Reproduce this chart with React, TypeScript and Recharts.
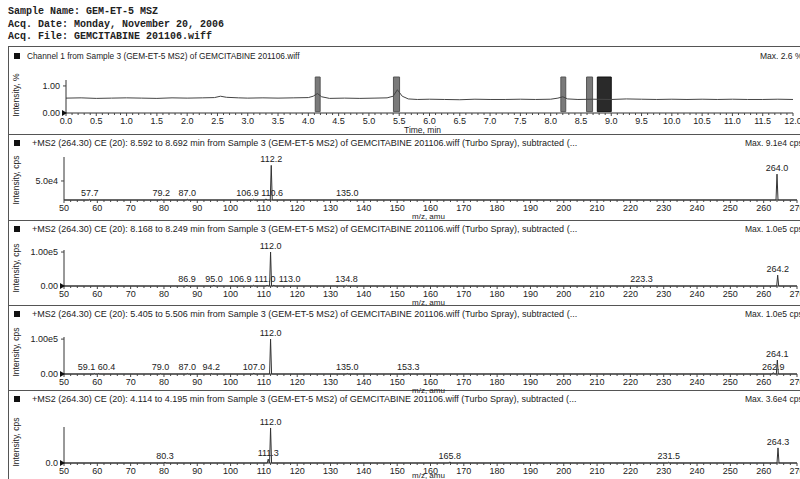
import { ComposedChart, Line, Scatter, XAxis, YAxis, ReferenceArea } from 'recharts';

// header block (monospace, as printed by the acquisition software)
const headerLines = [
  'Sample Name: GEM-ET-5 MSZ',
  'Acq. Date: Monday, November 20, 2006',
  'Acq. File: GEMCITABINE 201106.wiff',
];

// chromatogram (Channel 1)
const chromTitle = 'Channel 1 from Sample 3 (GEM-ET-5 MS2) of GEMCITABINE 201106.wiff';
const chromMax = 'Max. 2.6 %';
const chromTime = [
  0.0, 0.25, 0.5, 0.75, 1.0, 1.25, 1.5, 1.75, 2.0, 2.25, 2.45, 2.55, 2.65, 2.85, 3.0,
  3.25, 3.5, 3.75, 4.0, 4.08, 4.15, 4.22, 4.35, 4.6, 4.85, 5.1, 5.3, 5.4, 5.47, 5.55,
  5.65, 5.8, 6.0, 6.25, 6.5, 6.75, 7.0, 7.25, 7.5, 7.75, 8.0, 8.12, 8.2, 8.28, 8.45,
  8.7, 9.0, 9.25, 9.5, 9.75, 10.0, 10.25, 10.5, 10.75, 11.0, 11.25, 11.5, 11.75, 12.0,
];
const chromIntensity = [
  0.55, 0.56, 0.54, 0.55, 0.56, 0.55, 0.54, 0.56, 0.55, 0.56, 0.57, 0.62, 0.58, 0.56, 0.55,
  0.56, 0.55, 0.56, 0.57, 0.62, 0.72, 0.6, 0.54, 0.55, 0.54, 0.55, 0.56, 0.62, 0.86, 0.62,
  0.52, 0.5, 0.51, 0.5, 0.49, 0.51, 0.5, 0.5, 0.51, 0.5, 0.51, 0.55, 0.6, 0.52, 0.5,
  0.51, 0.5, 0.52, 0.51, 0.5, 0.51, 0.5, 0.51, 0.5, 0.51, 0.5, 0.5, 0.51, 0.5,
];
const timeTicks = [
  0, 0.5, 1, 1.5, 2, 2.5, 3, 3.5, 4, 4.5, 5, 5.5, 6, 6.5, 7, 7.5, 8, 8.5, 9, 9.5, 10, 10.5, 11, 11.5, 12,
];
// selected scan windows shown as grey bars
const scanStart = [4.114, 5.405, 8.168, 8.592];
const scanEnd = [4.195, 5.506, 8.249, 8.692];
const heldStart = 8.77;
const heldEnd = 9.0;

// product ion spectra
const spectrumRanges = ['8.592 to 8.692', '8.168 to 8.249', '5.405 to 5.506', '4.114 to 4.195'];
const spectrumMax = ['Max. 9.1e4 cps', 'Max. 1.0e5 cps', 'Max. 1.0e5 cps', 'Max. 3.6e4 cps'];

const spec1Mz = [57.7, 79.2, 87.0, 106.9, 110.6, 112.2, 135.0, 264.0];
const spec1Int = [1800, 1800, 2200, 2200, 3000, 91000, 1500, 68000];
const spec2Mz = [86.9, 95.0, 106.9, 111.0, 112.0, 113.0, 134.8, 223.3, 264.2];
const spec2Int = [2000, 2000, 2000, 3000, 100000, 2500, 2000, 1500, 32000];
const spec3Mz = [59.1, 60.4, 79.0, 87.0, 94.2, 107.0, 112.0, 135.0, 153.3, 262.9, 264.1];
const spec3Int = [1500, 1500, 1500, 1500, 1500, 2000, 100000, 1500, 1500, 4000, 40000];
const spec4Mz = [80.3, 111.3, 112.0, 165.8, 231.5, 264.3];
const spec4Int = [800, 4000, 36000, 1200, 800, 15500];

const mzTicks = [50, 60, 70, 80, 90, 100, 110, 120, 130, 140, 150, 160, 170, 180, 190, 200, 210, 220, 230, 240, 250, 260, 270];

const SANS = '"Liberation Sans", Arial, sans-serif';
const INK = '#222';

// minor ticks between the labelled ones
const mzMinor = mzTicks.flatMap((t, i) => (i === mzTicks.length - 1 ? [t] : [t, t + 2, t + 4, t + 6, t + 8]));
const timeMinor = timeTicks.flatMap((t, i) =>
  i === timeTicks.length - 1 ? [t] : [t, t + 0.1, t + 0.2, t + 0.3, t + 0.4].map((v) => Math.round(v * 10) / 10)
);

const buildTrace = (mz: number[], ints: number[]) => {
  const pts = [{ mz: 50, v: 0 }];
  mz.forEach((m, i) => {
    pts.push({ mz: m - 0.3, v: 0 }, { mz: m, v: ints[i] }, { mz: m + 0.3, v: 0 });
  });
  pts.push({ mz: 270, v: 0 });
  return pts.sort((a, b) => a.mz - b.mz);
};

// spread the small-peak labels along the axis so they don't sit on top of each other
const layoutLabels = (mz: number[], ints: number[], yMax: number) => {
  const pos = mz.slice();
  const low = mz.map((_, i) => i).filter((i) => ints[i] < yMax * 0.15).sort((a, b) => mz[a] - mz[b]);
  for (let it = 0; it < 60; it++) {
    for (let k = 1; k < low.length; k++) {
      const a = low[k - 1];
      const b = low[k];
      const need = (mz[a].toFixed(1).length + mz[b].toFixed(1).length) * 0.72 + 0.2;
      const gap = pos[b] - pos[a];
      if (gap < need) {
        const d = (need - gap) / 2;
        pos[a] -= d;
        pos[b] += d;
      }
    }
  }
  return mz.map((m, i) => ({ mz: pos[i], v: ints[i], text: m.toFixed(1) }));
};

const XTick = ({ x, y, payload, labels }: any) => {
  const major = labels.some((t: number) => Math.abs(t - payload.value) < 1e-6);
  return (
    <g>
      <line x1={x} y1={y} x2={x} y2={y + (major ? 3 : 2)} stroke="#444" />
      {major && (
        <text x={x} y={y + 10.5} textAnchor="middle" fontSize={9} fontFamily={SANS} fill={INK}>
          {labels === timeTicks ? payload.value.toFixed(1) : payload.value}
        </text>
      )}
    </g>
  );
};

const YTick = ({ x, y, payload, fmt }: any) => (
  <g>
    <line x1={x + 2} y1={y} x2={x + 5} y2={y} stroke="#444" />
    <text x={x - 1} y={y} dy="0.35em" textAnchor="end" fontSize={9} fontFamily={SANS} fill={INK}>
      {fmt(payload.value)}
    </text>
    {payload.value === 0 && <polygon points={`${x + 1},${y - 3} ${x + 6},${y} ${x + 1},${y + 3}`} fill="#111" />}
  </g>
);

const PeakLabel = ({ cx, cy, payload }: any) => (
  <text x={cx} y={cy - 3} textAnchor="middle" fontSize={9} fontFamily={SANS} fill={INK}>
    {payload.text}
  </text>
);

const Txt = ({ left, top, size = 8.5, children, mono = false, bold = false }: any) => (
  <div
    style={{
      position: 'absolute',
      left,
      top: top - size * 0.5,
      fontSize: size,
      lineHeight: 1,
      whiteSpace: 'nowrap',
      fontFamily: mono ? '"Liberation Mono", "Courier New", monospace' : SANS,
      fontWeight: bold ? 700 : 400,
      color: INK,
    }}
  >
    {children}
  </div>
);

const VLabel = ({ cx, cy, children }: any) => (
  <div
    style={{
      position: 'absolute',
      left: cx,
      top: cy,
      transform: 'translate(-50%, -50%) rotate(-90deg)',
      fontSize: 8.5,
      fontFamily: SANS,
      color: INK,
      whiteSpace: 'nowrap',
    }}
  >
    {children}
  </div>
);

const spectra = [
  { mz: spec1Mz, ints: spec1Int, top: 135, height: 87, mTop: 22, axisH: 22, yMax: 113000, yTicks: [0, 50000], fmt: (v: number) => (v === 0 ? '0.0' : '5.0e4') },
  { mz: spec2Mz, ints: spec2Int, top: 222, height: 85, mTop: 28, axisH: 21, yMax: 106000, yTicks: [0, 100000], fmt: (v: number) => (v === 0 ? '0.00' : '1.00e5') },
  { mz: spec3Mz, ints: spec3Int, top: 307, height: 85, mTop: 30, axisH: 18, yMax: 106000, yTicks: [0, 100000], fmt: (v: number) => (v === 0 ? '0.00' : '1.00e5') },
  { mz: spec4Mz, ints: spec4Int, top: 392, height: 87, mTop: 35, axisH: 16, yMax: 37000, yTicks: [0], fmt: () => '0.0' },
];

const separators = [46, 134, 220, 305, 390];
const titleY = [56, 143, 229, 314, 399];
const yLabelY = [95, 180, 268, 352, 442];

export default function App() {
  const chromData = chromTime.map((t, i) => ({ t, v: chromIntensity[i] }));

  return (
    <div style={{ position: 'absolute', left: 0, top: 0, width: 800, height: 479, overflow: 'hidden', background: '#fff' }}>
      {headerLines.map((l, i) => (
        <Txt key={l} left={8} top={12 + i * 12.5} size={10} mono bold>
          {l}
        </Txt>
      ))}

      {/* frame */}
      <div style={{ position: 'absolute', left: 8, top: 46, width: 1, height: 433, background: '#555' }} />
      {separators.map((y) => (
        <div key={y} style={{ position: 'absolute', left: 8, top: y, width: 792, height: 1, background: '#555' }} />
      ))}

      {/* titles */}
      {titleY.map((y, i) => (
        <div key={y}>
          <div style={{ position: 'absolute', left: 14, top: y - 3, width: 6, height: 6, background: '#111' }} />
          <Txt left={i === 0 ? 27 : 32} top={y} size={i === 0 ? 8.3 : 9}>
            {i === 0
              ? chromTitle
              : `+MS2 (264.30) CE (20): ${spectrumRanges[i - 1]} min from Sample 3 (GEM-ET-5 MS2) of GEMCITABINE 201106.wiff (Turbo Spray), subtracted (...`}
          </Txt>
          <Txt left={i === 0 ? 760 : 745} top={y}>
            {i === 0 ? chromMax : spectrumMax[i - 1]}
          </Txt>
          <VLabel cx={16} cy={yLabelY[i]}>
            {i === 0 ? 'Intensity, %' : 'Intensity, cps'}
          </VLabel>
        </div>
      ))}

      {/* chromatogram */}
      <div style={{ position: 'absolute', left: 0, top: 46 }}>
        <ComposedChart width={800} height={90} data={chromData} margin={{ top: 34, right: 7, bottom: 0, left: 32 }}>
          <XAxis
            dataKey="t"
            type="number"
            domain={[0, 12]}
            ticks={timeMinor}
            interval={0}
            height={23}
            tickSize={0}
            tickMargin={0}
            tickLine={false}
            stroke="#333"
            tick={(p: any) => <XTick {...p} labels={timeTicks} />}
          />
          <YAxis
            type="number"
            domain={[0, 1.22]}
            ticks={[0, 1]}
            width={34}
            tickSize={3}
            tickMargin={2}
            tickLine={false}
            stroke="#333"
            tick={(p: any) => <YTick {...p} fmt={(v: number) => v.toFixed(2)} />}
          />
          {scanStart.map((s, i) => (
            <ReferenceArea key={s} x1={s} x2={scanEnd[i]} y1={0.05} y2={1.33} ifOverflow="visible" fill="#7a7a7a" fillOpacity={1} stroke="#555" />
          ))}
          <ReferenceArea x1={heldStart} x2={heldEnd} y1={0.05} y2={1.33} ifOverflow="visible" fill="#2a2a2a" fillOpacity={1} stroke="#111" />
          <Line type="linear" dataKey="v" stroke="#444" strokeWidth={1} dot={false} activeDot={false} isAnimationActive={false} />
        </ComposedChart>
      </div>
      <Txt left={404} top={130} size={8.5}>
        Time, min
      </Txt>

      {/* spectra */}
      {spectra.map((s, i) => (
        <div key={i}>
          <div style={{ position: 'absolute', left: 0, top: s.top }}>
            <ComposedChart width={800} height={s.height} margin={{ top: s.mTop, right: 3, bottom: 0, left: 30 }}>
              <XAxis
                dataKey="mz"
                type="number"
                domain={[50, 270]}
                ticks={mzMinor}
                interval={0}
                height={s.axisH}
                tickSize={0}
                tickMargin={0}
                tickLine={false}
                stroke="#333"
                tick={(p: any) => <XTick {...p} labels={mzTicks} />}
              />
              <YAxis
                type="number"
                domain={[0, s.yMax]}
                ticks={s.yTicks}
                width={34}
                tickSize={3}
                tickMargin={2}
                tickLine={false}
                stroke="#333"
                tick={(p: any) => <YTick {...p} fmt={s.fmt} />}
              />
              <Line
                data={buildTrace(s.mz, s.ints)}
                type="linear"
                dataKey="v"
                stroke="#333"
                strokeWidth={1}
                dot={false}
                activeDot={false}
                isAnimationActive={false}
              />
              <Scatter
                data={layoutLabels(s.mz, s.ints, s.yMax)}
                dataKey="v"
                shape={(p: any) => <PeakLabel {...p} />}
                isAnimationActive={false}
              />
            </ComposedChart>
          </div>
          <Txt left={412} top={Math.min(s.top + s.height - s.axisH + 17, 476)} size={8}>
            m/z, amu
          </Txt>
        </div>
      ))}
    </div>
  );
}
